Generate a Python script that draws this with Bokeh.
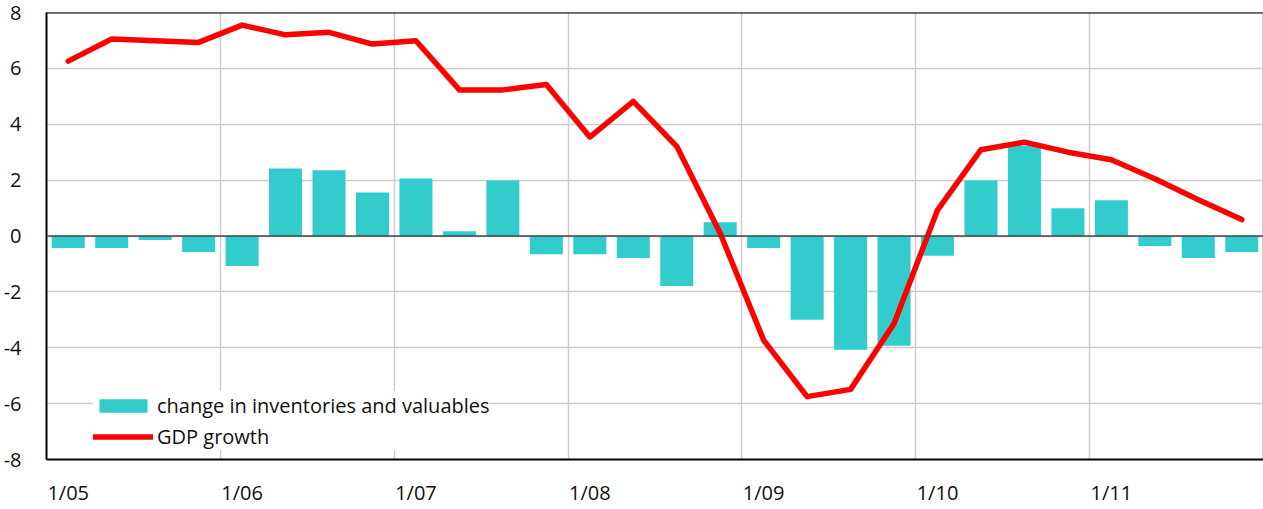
from bokeh.plotting import figure
from bokeh.models import FixedTicker, Span, Legend, LegendItem, ColumnDataSource
from bokeh.embed import file_html
from bokeh.resources import INLINE

quarters = ["Q1 05", "Q2 05", "Q3 05", "Q4 05",
            "Q1 06", "Q2 06", "Q3 06", "Q4 06",
            "Q1 07", "Q2 07", "Q3 07", "Q4 07",
            "Q1 08", "Q2 08", "Q3 08", "Q4 08",
            "Q1 09", "Q2 09", "Q3 09", "Q4 09",
            "Q1 10", "Q2 10", "Q3 10", "Q4 10",
            "Q1 11", "Q2 11", "Q3 11", "Q4 11"]
inventories = [-0.43, -0.43, -0.14, -0.57,
               -1.07, 2.42, 2.35, 1.56,
               2.06, 0.17, 1.99, -0.65,
               -0.65, -0.79, -1.79, 0.49,
               -0.43, -3.0, -4.07, -3.93,
               -0.71, 1.99, 3.24, 0.99,
               1.28, -0.36, -0.79, -0.57]
gdp_growth = [6.26, 7.05, 6.99, 6.93,
              7.55, 7.20, 7.29, 6.87,
              6.99, 5.23, 5.23, 5.42,
              3.54, 4.82, 3.21, 0.1,
              -3.73, -5.75, -5.49, -3.13,
              0.93, 3.09, 3.36, 3.0,
              2.73, 2.05, 1.3, 0.59]
year_labels = ["1/05", "1/06", "1/07", "1/08", "1/09", "1/10", "1/11"]
y_ticks = [-8, -6, -4, -2, 0, 2, 4, 6, 8]
y_labels = ["-8", "-6", "-4", "-2", "0", "2", "4", "6", "8"]

n = len(quarters)
xs = [i + 0.5 for i in range(n)]
src = ColumnDataSource(dict(x=xs, inv=inventories, gdp=gdp_growth, q=quarters))

FONT = "Open Sans"
FS = "20px"
p = figure(width=1263, height=509, output_backend="svg", toolbar_location=None,
           x_range=(0, n), y_range=(-8, 8),
           min_border_left=46, min_border_right=0, min_border_top=12, min_border_bottom=50)
p.background_fill_color = "white"
p.border_fill_color = "white"
p.outline_line_color = "#c8c8c8"

bars = p.vbar(x="x", top="inv", bottom=0, width=0.76, source=src,
              fill_color="#33CCCC", line_color=None)
zero = Span(location=0, dimension="width", line_color="#444444", line_alpha=0.75, line_width=2)
p.add_layout(zero)
line = p.line(x="x", y="gdp", source=src, line_color="#FF0000", line_width=5.5,
              line_join="round", line_cap="round")

top = Span(location=8, dimension="width", line_color="black", line_width=2)
p.add_layout(top)

tick_pos = [xs[i] for i in range(0, n, 4)]
p.xaxis.ticker = FixedTicker(ticks=tick_pos)
p.xaxis.major_label_overrides = {t: lab for t, lab in zip(tick_pos, year_labels)}
p.xgrid.ticker = FixedTicker(ticks=[float(i) for i in range(4, n, 4)] + [float(n)])
p.yaxis.ticker = FixedTicker(ticks=y_ticks)
p.yaxis.major_label_overrides = {t: lab for t, lab in zip(y_ticks, y_labels)}

for ax in (p.xaxis[0], p.yaxis[0]):
    ax.axis_line_color = "black"
    ax.axis_line_width = 2
    ax.major_tick_line_color = None
    ax.minor_tick_line_color = None
    ax.major_tick_out = 0
    ax.major_tick_in = 0
    ax.minor_tick_out = 0
    ax.minor_tick_in = 0
    ax.major_label_text_font = FONT
    ax.major_label_text_font_size = FS
    ax.major_label_text_color = "#111111"
p.xaxis.major_label_standoff = 19
p.yaxis.major_label_standoff = 25

p.xgrid.grid_line_color = "#cccccc"
p.ygrid.grid_line_color = "#cccccc"
p.xgrid.grid_line_width = 1.5
p.ygrid.grid_line_width = 1.5

legend = Legend(items=[LegendItem(label="change in inventories and valuables", renderers=[bars]),
                       LegendItem(label="GDP growth", renderers=[line])],
                location=(47, 9), orientation="vertical",
                background_fill_color="white", background_fill_alpha=1.0,
                border_line_color=None,
                glyph_width=60, glyph_height=17, label_height=28,
                label_standoff=4, spacing=3, padding=6, margin=0,
                label_text_font=FONT, label_text_font_size=FS,
                label_text_color="#111111")
p.add_layout(legend)

open("out.html", "w").write(file_html(p, INLINE))
